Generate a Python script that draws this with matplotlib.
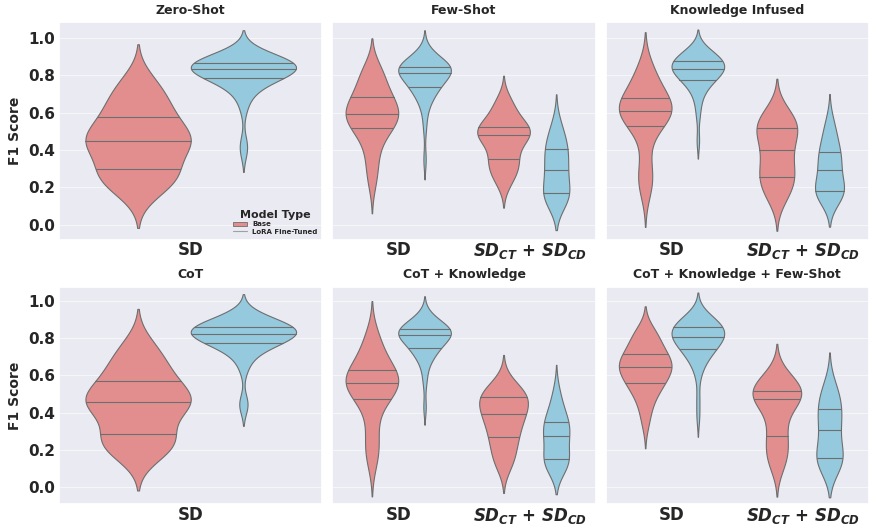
import matplotlib
matplotlib.use("Agg")
import matplotlib.pyplot as plt
import numpy as np
import pandas as pd
import seaborn as sns
from matplotlib.patches import Patch
from matplotlib.lines import Line2D

# ---------------- data (F1 scores) ----------------
panel_titles = ["Zero-Shot", "Few-Shot", "Knowledge Infused",
                "CoT", "CoT + Knowledge", "CoT + Knowledge + Few-Shot"]
model_types = ["Base", "LoRA Fine-Tuned"]
task_sd = "SD"
task_sdct = r"$\mathbfit{SD}_{\mathbfit{CT}}$ + $\mathbfit{SD}_{\mathbfit{CD}}$"

zero_shot_base_sd = [0.15, 0.18, 0.20, 0.22, 0.24, 0.25, 0.26, 0.27, 0.28, 0.285,
                     0.30, 0.33, 0.36, 0.38, 0.40, 0.41, 0.42, 0.43, 0.44, 0.445,
                     0.455, 0.46, 0.47, 0.48, 0.49, 0.50, 0.52, 0.54, 0.56, 0.57,
                     0.59, 0.61, 0.63, 0.65, 0.67, 0.69, 0.71, 0.74, 0.77, 0.80]
zero_shot_lora_sd = [0.39, 0.44, 0.62, 0.68, 0.71, 0.73, 0.75, 0.76, 0.77, 0.78,
                     0.79, 0.795, 0.80, 0.805, 0.81, 0.815, 0.82, 0.825, 0.83, 0.832,
                     0.835, 0.84, 0.842, 0.845, 0.848, 0.85, 0.855, 0.86, 0.863, 0.866,
                     0.87, 0.875, 0.88, 0.885, 0.89, 0.895, 0.90, 0.91, 0.92, 0.935]

few_shot_base_sd = [0.21, 0.26, 0.30, 0.34, 0.38, 0.42, 0.45, 0.47, 0.49, 0.51,
                    0.52, 0.53, 0.54, 0.55, 0.56, 0.565, 0.57, 0.58, 0.585, 0.59,
                    0.598, 0.605, 0.615, 0.625, 0.635, 0.645, 0.655, 0.665, 0.675, 0.68,
                    0.695, 0.71, 0.73, 0.75, 0.77, 0.79, 0.80, 0.82, 0.84, 0.85]
few_shot_lora_sd = [0.35, 0.52, 0.60, 0.64, 0.67, 0.69, 0.70, 0.715, 0.725, 0.733,
                    0.74, 0.75, 0.76, 0.77, 0.78, 0.79, 0.795, 0.80, 0.805, 0.81,
                    0.818, 0.822, 0.826, 0.83, 0.834, 0.837, 0.84, 0.842, 0.844, 0.845,
                    0.85, 0.855, 0.86, 0.865, 0.87, 0.88, 0.89, 0.90, 0.915, 0.935]
few_shot_base_sdct = [0.21, 0.23, 0.25, 0.27, 0.29, 0.30, 0.31, 0.32, 0.33, 0.345,
                      0.355, 0.37, 0.39, 0.41, 0.43, 0.44, 0.45, 0.46, 0.47, 0.475,
                      0.483, 0.488, 0.493, 0.498, 0.503, 0.508, 0.512, 0.516, 0.519, 0.522,
                      0.53, 0.545, 0.56, 0.575, 0.59, 0.61, 0.63, 0.645, 0.66, 0.68]
few_shot_lora_sdct = [0.12, 0.13, 0.14, 0.15, 0.16, 0.17, 0.20, 0.23, 0.26, 0.28,
                      0.305, 0.33, 0.35, 0.38, 0.40, 0.42, 0.44, 0.47, 0.50, 0.55]

knowledge_base_sd = [0.16, 0.20, 0.23, 0.25, 0.27, 0.30, 0.36, 0.43, 0.48, 0.52,
                     0.531, 0.545, 0.56, 0.57, 0.58, 0.588, 0.595, 0.60, 0.604, 0.606,
                     0.61, 0.615, 0.62, 0.63, 0.64, 0.645, 0.655, 0.665, 0.672, 0.677,
                     0.685, 0.70, 0.72, 0.74, 0.76, 0.78, 0.80, 0.82, 0.84, 0.86]
knowledge_lora_sd = [0.45, 0.58, 0.64, 0.68, 0.71, 0.73, 0.745, 0.755, 0.765, 0.772,
                     0.78, 0.79, 0.80, 0.805, 0.81, 0.815, 0.82, 0.825, 0.83, 0.832,
                     0.835, 0.84, 0.845, 0.85, 0.855, 0.86, 0.865, 0.87, 0.873, 0.876,
                     0.882, 0.89, 0.895, 0.90, 0.905, 0.91, 0.92, 0.93, 0.94, 0.95]
knowledge_base_sdct = [0.12, 0.15, 0.17, 0.19, 0.21, 0.23, 0.24, 0.25, 0.265, 0.28,
                       0.30, 0.32, 0.34, 0.36, 0.38, 0.40, 0.42, 0.44, 0.46, 0.48,
                       0.495, 0.505, 0.515, 0.525, 0.535, 0.545, 0.555, 0.57, 0.585, 0.61,
                       0.63]
knowledge_lora_sdct = [0.13, 0.15, 0.16, 0.17, 0.175, 0.18, 0.185, 0.20, 0.22, 0.25,
                       0.28, 0.305, 0.32, 0.34, 0.36, 0.38, 0.39, 0.42, 0.45, 0.48,
                       0.52, 0.56]

cot_base_sd = [0.15, 0.18, 0.20, 0.21, 0.22, 0.23, 0.24, 0.26, 0.27, 0.28,
               0.285, 0.32, 0.36, 0.39, 0.41, 0.42, 0.43, 0.44, 0.448, 0.452,
               0.46, 0.465, 0.47, 0.48, 0.49, 0.50, 0.515, 0.53, 0.55, 0.565,
               0.58, 0.60, 0.62, 0.64, 0.66, 0.68, 0.70, 0.73, 0.76, 0.79]
cot_lora_sd = [0.43, 0.46, 0.63, 0.68, 0.71, 0.73, 0.745, 0.755, 0.765, 0.77,
               0.777, 0.785, 0.79, 0.795, 0.80, 0.805, 0.81, 0.815, 0.82, 0.822,
               0.826, 0.83, 0.834, 0.838, 0.842, 0.845, 0.848, 0.851, 0.854, 0.857,
               0.862, 0.868, 0.875, 0.88, 0.885, 0.89, 0.90, 0.91, 0.92, 0.935]

cot_k_base_sd = [0.12, 0.16, 0.19, 0.22, 0.25, 0.29, 0.34, 0.39, 0.43, 0.46,
                 0.477, 0.49, 0.50, 0.51, 0.52, 0.53, 0.54, 0.545, 0.55, 0.556,
                 0.562, 0.568, 0.575, 0.58, 0.59, 0.598, 0.606, 0.614, 0.62, 0.626,
                 0.635, 0.65, 0.67, 0.69, 0.71, 0.73, 0.76, 0.78, 0.81, 0.83]
cot_k_lora_sd = [0.43, 0.56, 0.62, 0.66, 0.69, 0.70, 0.715, 0.725, 0.735, 0.744,
                 0.75, 0.76, 0.77, 0.78, 0.785, 0.79, 0.80, 0.805, 0.81, 0.812,
                 0.816, 0.82, 0.823, 0.827, 0.83, 0.834, 0.838, 0.842, 0.845, 0.848,
                 0.852, 0.857, 0.862, 0.868, 0.875, 0.88, 0.89, 0.90, 0.915, 0.93]
cot_k_base_sdct = [0.10, 0.12, 0.14, 0.16, 0.18, 0.20, 0.22, 0.24, 0.255, 0.27,
                   0.285, 0.30, 0.315, 0.33, 0.345, 0.36, 0.37, 0.38, 0.392,
                   0.40, 0.41, 0.42, 0.43, 0.44, 0.45, 0.46, 0.47, 0.482,
                   0.49, 0.495, 0.50, 0.505, 0.51, 0.52, 0.535, 0.555, 0.58]
cot_k_lora_sdct = [0.10, 0.11, 0.12, 0.135, 0.145, 0.155, 0.18, 0.21, 0.24, 0.265,
                   0.285, 0.30, 0.315, 0.33, 0.345, 0.365, 0.39, 0.42, 0.46, 0.52]

cot_k_fs_base_sd = [0.33, 0.38, 0.42, 0.45, 0.48, 0.50, 0.515, 0.53, 0.54, 0.553,
                    0.562, 0.575, 0.585, 0.595, 0.605, 0.612, 0.62, 0.628, 0.635, 0.642,
                    0.648, 0.655, 0.662, 0.67, 0.677, 0.684, 0.691, 0.698, 0.705, 0.713,
                    0.725, 0.74, 0.755, 0.77, 0.785, 0.795, 0.81, 0.825, 0.84, 0.85]
cot_k_fs_lora_sd = [0.38, 0.48, 0.60, 0.64, 0.67, 0.69, 0.705, 0.715, 0.725, 0.735,
                    0.74, 0.75, 0.76, 0.77, 0.78, 0.785, 0.79, 0.795, 0.80, 0.805,
                    0.81, 0.815, 0.82, 0.825, 0.83, 0.835, 0.84, 0.845, 0.852, 0.858,
                    0.865, 0.87, 0.875, 0.88, 0.885, 0.89, 0.90, 0.91, 0.92, 0.935]
cot_k_fs_base_sdct = [0.10, 0.12, 0.14, 0.16, 0.18, 0.20, 0.22, 0.24, 0.26, 0.275,
                      0.30, 0.33, 0.36, 0.39, 0.41, 0.43, 0.445, 0.46, 0.473,
                      0.478, 0.483, 0.488, 0.493, 0.498, 0.503, 0.508, 0.513, 0.518,
                      0.525, 0.535, 0.545, 0.555, 0.565, 0.575, 0.585, 0.60, 0.62]
cot_k_fs_lora_sdct = [0.11, 0.12, 0.13, 0.14, 0.15, 0.16, 0.19, 0.22, 0.25, 0.28,
                      0.33, 0.35, 0.37, 0.39, 0.41, 0.45, 0.47, 0.49, 0.52, 0.56]

panels = [
    {task_sd: (zero_shot_base_sd, zero_shot_lora_sd)},
    {task_sd: (few_shot_base_sd, few_shot_lora_sd),
     task_sdct: (few_shot_base_sdct, few_shot_lora_sdct)},
    {task_sd: (knowledge_base_sd, knowledge_lora_sd),
     task_sdct: (knowledge_base_sdct, knowledge_lora_sdct)},
    {task_sd: (cot_base_sd, cot_lora_sd)},
    {task_sd: (cot_k_base_sd, cot_k_lora_sd),
     task_sdct: (cot_k_base_sdct, cot_k_lora_sdct)},
    {task_sd: (cot_k_fs_base_sd, cot_k_fs_lora_sd),
     task_sdct: (cot_k_fs_base_sdct, cot_k_fs_lora_sdct)},
]

# ---------------- plotting ----------------
sns.set_theme(style="darkgrid")
plt.rcParams["font.family"] = ["DejaVu Sans"]
plt.rcParams["grid.linewidth"] = 0.6
plt.rcParams["grid.alpha"] = 0.7

palette = {"Base": "lightcoral", "LoRA Fine-Tuned": "skyblue"}
edge = "#6e6e6e"

fig, axes = plt.subplots(2, 3, figsize=(8.69, 5.28), dpi=100, sharey="row")
fig.subplots_adjust(left=0.068, right=1.0, top=0.958, bottom=0.045,
                    wspace=0.038, hspace=0.216)

for ax, title, panel in zip(axes.flat, panel_titles, panels):
    rows = []
    for task, (base_vals, lora_vals) in panel.items():
        for v in base_vals:
            rows.append((task, model_types[0], v))
        for v in lora_vals:
            rows.append((task, model_types[1], v))
    df = pd.DataFrame(rows, columns=["Task", "Model Type", "F1 Score"])
    sns.violinplot(data=df, x="Task", y="F1 Score", hue="Model Type",
                   order=list(panel.keys()), hue_order=model_types,
                   palette=palette, inner="quart", density_norm="count",
                   common_norm=True, linecolor=edge, linewidth=0.8,
                   legend=False, ax=ax)
    for ln in ax.lines:
        ln.set_linestyle("-")
        ln.set_color(edge)
        ln.set_linewidth(0.8)
    ax.set_title(title, fontsize=9, fontweight="bold", color="#262626", pad=6)
    ax.set_xlabel("")
    ax.tick_params(axis="x", labelsize=12, pad=1, length=0)
    for lbl in ax.get_xticklabels():
        lbl.set_fontweight("bold")
    ax.tick_params(axis="y", labelsize=11, pad=3, length=0)
    for lbl in ax.get_yticklabels():
        lbl.set_fontweight("bold")

for r, ylim in enumerate([(-0.08, 1.085), (-0.09, 1.075)]):
    axes[r, 0].set_ylim(*ylim)
    axes[r, 0].set_yticks([0.0, 0.2, 0.4, 0.6, 0.8, 1.0])
    axes[r, 0].set_ylabel("F1 Score", fontsize=10, fontweight="bold", labelpad=4)
    for c in (1, 2):
        axes[r, c].set_ylabel("")
        axes[r, c].tick_params(axis="y", labelleft=False)

handles = [Patch(facecolor="#e28e8e", edgecolor=edge, linewidth=0.6),
           Line2D([0], [0], color="#a0a0a0", linewidth=0.8)]
leg = axes[0, 0].legend(handles, model_types, title="Model Type", loc="lower right",
                        frameon=False, prop={"size": 5, "weight": "bold"},
                        title_fontproperties={"size": 8, "weight": "bold"},
                        borderaxespad=0.3, handlelength=2.0, labelspacing=0.2)

fig.savefig("out.png", dpi=100)
